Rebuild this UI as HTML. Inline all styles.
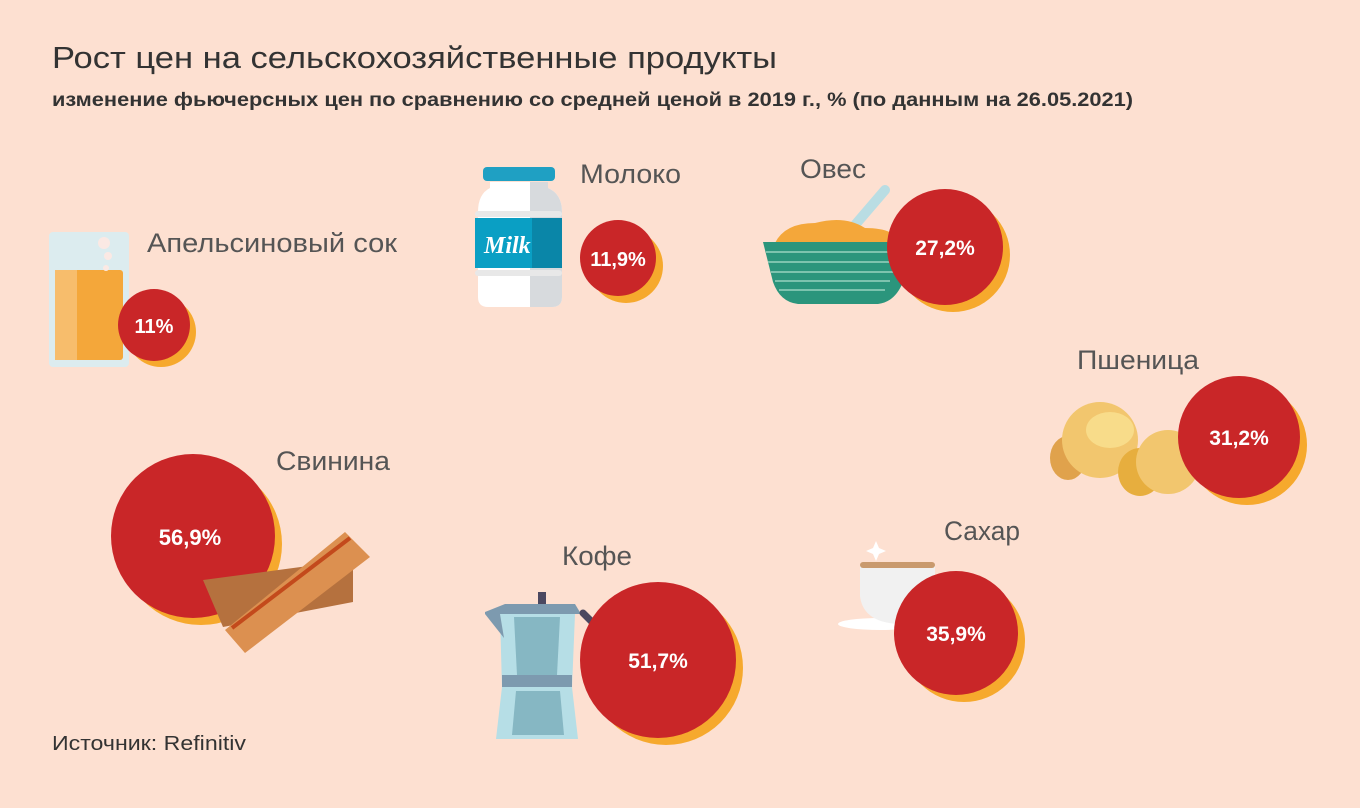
<!DOCTYPE html>
<html><head><meta charset="utf-8"><style>
html,body{margin:0;padding:0;background:#fde0d1;}
svg{display:block}
.lab{font-family:"Liberation Sans",sans-serif;font-size:27px;fill:#555;font-weight:300}
.pct{font-family:"Liberation Sans",sans-serif;font-weight:bold;fill:#fff;text-anchor:middle}
</style></head><body>
<svg width="1360" height="808" viewBox="0 0 1360 808" xmlns="http://www.w3.org/2000/svg">
<rect width="1360" height="808" fill="#fde0d1"/>
<text x="52" y="68" font-family="Liberation Sans,sans-serif" font-size="31" fill="#333" textLength="725" lengthAdjust="spacingAndGlyphs">Рост цен на сельскохозяйственные продукты</text>
<text x="52" y="106" font-family="Liberation Sans,sans-serif" font-size="19" font-weight="bold" fill="#333" textLength="1081" lengthAdjust="spacingAndGlyphs">изменение фьючерсных цен по сравнению со средней ценой в 2019 г., % (по данным на 26.05.2021)</text>
<text x="52" y="750" font-family="Liberation Sans,sans-serif" font-size="20" fill="#333" textLength="194" lengthAdjust="spacingAndGlyphs">Источник: Refinitiv</text>

<!-- juice glass -->
<rect x="49" y="232" width="80" height="135" rx="4" fill="#dcecef"/>
<rect x="55" y="270" width="68" height="90" rx="3" fill="#f4a73a"/>
<rect x="55" y="270" width="22" height="90" fill="#f7bd6c"/>
<circle cx="104" cy="243" r="6" fill="#fbe9e4"/><circle cx="108" cy="256" r="4" fill="#fbe9e4"/><circle cx="106" cy="268" r="3" fill="#fbe9e4"/>
<text class="lab" x="147" y="252" textLength="250" lengthAdjust="spacingAndGlyphs">Апельсиновый сок</text>
<circle cx="161" cy="332" r="35" fill="#f6a92d"/><circle cx="154" cy="325" r="36" fill="#c92628"/>
<text class="pct" x="154" y="333" font-size="20">11%</text>

<!-- milk -->
<rect x="483" y="167" width="72" height="14" rx="4" fill="#1fa0c3"/>
<path d="M490 182 h58 v6 q14 6 14 24 v85 q0 10 -10 10 h-64 q-10 0 -10 -10 v-85 q0 -18 12 -24z" fill="#fff"/>
<path d="M530 182 h18 v6 q14 6 14 24 v85 q0 10 -10 10 h-22z" fill="#d7dadd"/>
<rect x="475" y="211" width="87" height="6" rx="3" fill="#e8e8e8"/>
<rect x="475" y="270" width="87" height="6" rx="3" fill="#e8e8e8"/>
<rect x="475" y="218" width="87" height="50" fill="#0a9fc4"/>
<rect x="532" y="218" width="30" height="50" fill="#0a86a8"/>
<text x="484" y="253" font-family="Liberation Serif,serif" font-style="italic" font-weight="bold" font-size="24" fill="#fff">Milk</text>
<text class="lab" x="580" y="183" textLength="101" lengthAdjust="spacingAndGlyphs">Молоко</text>
<circle cx="626" cy="266" r="37" fill="#f6a92d"/><circle cx="618" cy="258" r="38" fill="#c92628"/>
<text class="pct" x="618" y="266" font-size="20">11,9%</text>

<!-- oats -->
<line x1="855" y1="225" x2="885" y2="190" stroke="#b9dde3" stroke-width="10" stroke-linecap="round"/>
<path d="M775 243 q10 -20 40 -20 q30 -8 50 5 q30 0 35 15z" fill="#f4a73a"/>
<path d="M763 242 h150 l-10 40 q-8 20 -25 22 h-80 q-18 -2 -25 -22z" fill="#2b957c"/>
<g stroke="#7cc3ae" stroke-width="2"><line x1="766" y1="252" x2="900" y2="252"/><line x1="768" y1="262" x2="898" y2="262"/><line x1="771" y1="272" x2="895" y2="272"/><line x1="775" y1="281" x2="890" y2="281"/><line x1="779" y1="290" x2="885" y2="290"/></g>
<text class="lab" x="800" y="178" textLength="66" lengthAdjust="spacingAndGlyphs">Овес</text>
<circle cx="953" cy="255" r="57" fill="#f6a92d"/><circle cx="945" cy="247" r="58" fill="#c92628"/>
<text class="pct" x="945" y="255" font-size="21">27,2%</text>

<!-- wheat / croissants -->
<ellipse cx="1068" cy="458" rx="18" ry="22" fill="#e0a24c"/>
<ellipse cx="1100" cy="440" rx="38" ry="38" fill="#f2c66e"/>
<ellipse cx="1110" cy="430" rx="24" ry="18" fill="#f8dc8a"/>
<ellipse cx="1140" cy="472" rx="22" ry="24" fill="#e7ae3e"/>
<ellipse cx="1168" cy="462" rx="32" ry="32" fill="#f2c66e"/>
<text class="lab" x="1077" y="369" textLength="122" lengthAdjust="spacingAndGlyphs">Пшеница</text>
<circle cx="1247" cy="445" r="60" fill="#f6a92d"/><circle cx="1239" cy="437" r="61" fill="#c92628"/>
<text class="pct" x="1239" y="445" font-size="21">31,2%</text>

<!-- pork -->
<text class="lab" x="276" y="470" textLength="114" lengthAdjust="spacingAndGlyphs">Свинина</text>
<circle cx="201" cy="544" r="81" fill="#f6a92d"/><circle cx="193" cy="536" r="82" fill="#c92628"/>
<text class="pct" x="190" y="545" font-size="22">56,9%</text>
<path d="M203 580 l150 -20 v42 l-130 25z" fill="#b5713e"/>
<path d="M225 630 l120 -98 l25 25 l-125 96z" fill="#dc9050"/>
<path d="M232 628 l118 -90" stroke="#c34a1c" stroke-width="4"/>

<!-- coffee -->
<rect x="538" y="592" width="8" height="14" fill="#4b4860"/>
<path d="M485 612 l20 -8 h70 l6 10 h-96z" fill="#7d9aaf"/>
<path d="M500 614 h75 l-3 74 h-70z" fill="#b6dee6"/>
<path d="M514 617 h46 l-3 58 h-40z" fill="#86b7c3"/>
<path d="M485 614 l15 0 l4 24z" fill="#7d9aaf"/>
<rect x="502" y="675" width="70" height="12" fill="#7d9aaf"/>
<path d="M502 687 h70 l6 52 h-82z" fill="#b6dee6"/>
<path d="M516 691 h44 l4 44 h-52z" fill="#86b7c3"/>
<path d="M583 613 l10 10 l-8 48" stroke="#4b4860" stroke-width="7" fill="none" stroke-linecap="round"/>
<text class="lab" x="562" y="565" textLength="70" lengthAdjust="spacingAndGlyphs">Кофе</text>
<circle cx="666" cy="668" r="77" fill="#f6a92d"/><circle cx="658" cy="660" r="78" fill="#c92628"/>
<text class="pct" x="658" y="668" font-size="21">51,7%</text>

<!-- sugar -->
<ellipse cx="880" cy="624" rx="42" ry="6" fill="#fff"/>
<path d="M860 566 h75 v30 q-3 26 -37 28 q-35 -2 -38 -28z" fill="#f1f1f1"/>
<rect x="860" y="562" width="75" height="6" rx="3" fill="#c99a6e"/>
<path d="M873 548 l3 -7 l3 7 l7 3 l-7 3 l-3 7 l-3 -7 l-7 -3z" fill="#fff"/>
<text class="lab" x="944" y="540" textLength="76" lengthAdjust="spacingAndGlyphs">Сахар</text>
<circle cx="964" cy="641" r="61" fill="#f6a92d"/><circle cx="956" cy="633" r="62" fill="#c92628"/>
<text class="pct" x="956" y="641" font-size="21">35,9%</text>
</svg>
</body></html>
